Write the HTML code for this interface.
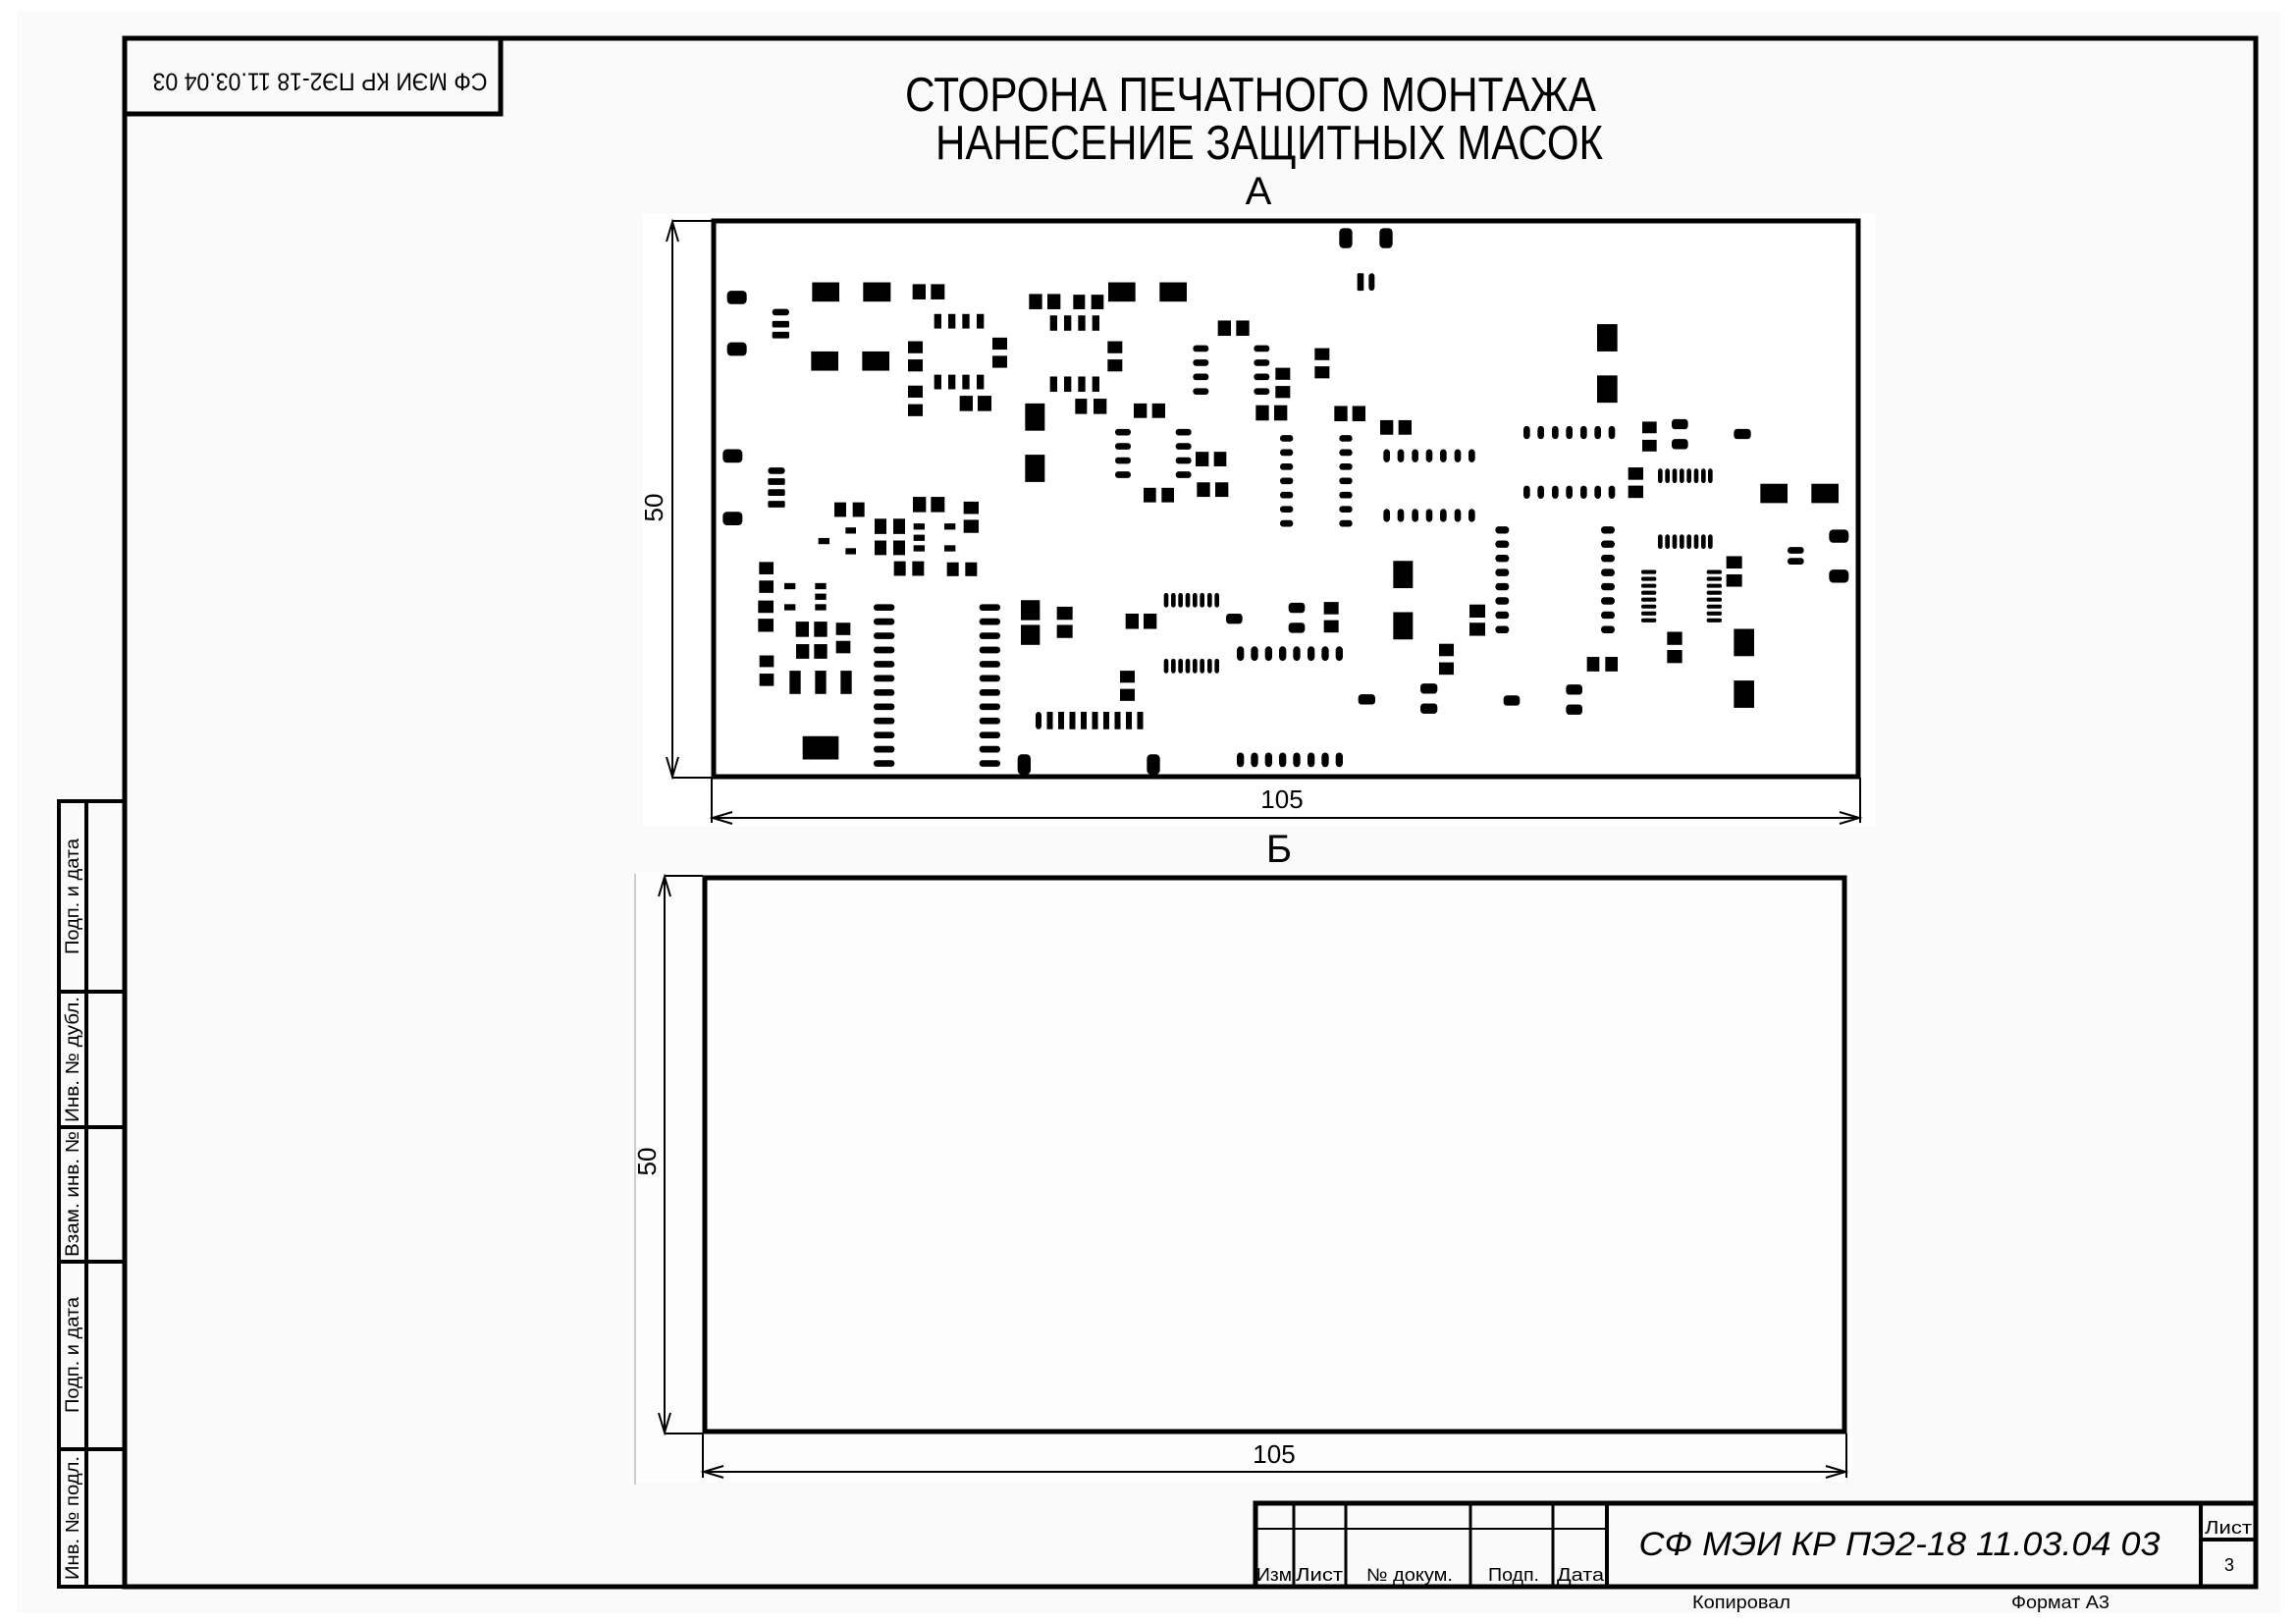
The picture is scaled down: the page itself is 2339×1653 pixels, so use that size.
<!DOCTYPE html>
<html><head><meta charset="utf-8"><style>
html,body{margin:0;padding:0;background:#fff}
svg{display:block}
text{font-family:"Liberation Sans",sans-serif;fill:#000}
</style></head><body>
<svg width="2339" height="1653" viewBox="0 0 2339 1653" xmlns="http://www.w3.org/2000/svg">
<rect x="17" y="11" width="2306" height="1632" fill="#fafafa"/>
<rect x="655" y="217" width="1256" height="624" fill="#fff"/>
<rect x="647" y="888" width="1240" height="622" fill="#fdfdfd"/>
<line x1="647" y1="890" x2="647" y2="1512" stroke="#ccc" stroke-width="2"/>

<rect x="127" y="39" width="2171" height="1577" fill="none" stroke="#000" stroke-width="5"/>
<rect x="127" y="39" width="383" height="77" fill="none" stroke="#000" stroke-width="5"/>
<text transform="translate(326,81) rotate(180)" font-size="25" text-anchor="middle" dominant-baseline="middle" textLength="341" lengthAdjust="spacingAndGlyphs">СФ МЭИ КР ПЭ2-18 11.03.04 03</text>

<g stroke="#000" stroke-width="4" fill="none">
<rect x="60" y="816" width="67" height="800"/>
<line x1="88" y1="816" x2="88" y2="1616"/>
<line x1="60" y1="1010" x2="127" y2="1010"/>
<line x1="60" y1="1148" x2="127" y2="1148"/>
<line x1="60" y1="1285" x2="127" y2="1285"/>
<line x1="60" y1="1476" x2="127" y2="1476"/>
</g>
<g font-size="19">
<text transform="translate(80,913) rotate(-90)" text-anchor="middle" textLength="118" lengthAdjust="spacingAndGlyphs">Подп. и дата</text>
<text transform="translate(80,1079) rotate(-90)" text-anchor="middle" textLength="128" lengthAdjust="spacingAndGlyphs">Инв. № дубл.</text>
<text transform="translate(80,1216) rotate(-90)" text-anchor="middle" textLength="128" lengthAdjust="spacingAndGlyphs">Взам. инв. №</text>
<text transform="translate(80,1380) rotate(-90)" text-anchor="middle" textLength="118" lengthAdjust="spacingAndGlyphs">Подп. и дата</text>
<text transform="translate(80,1546) rotate(-90)" text-anchor="middle" textLength="126" lengthAdjust="spacingAndGlyphs">Инв. № подл.</text>
</g>

<g stroke="#000" fill="none">
<rect x="1279" y="1531" width="1019" height="85" stroke-width="5"/>
<line x1="1279" y1="1557" x2="1637" y2="1557" stroke-width="2"/>
<line x1="1318" y1="1531" x2="1318" y2="1616" stroke-width="3"/>
<line x1="1371" y1="1531" x2="1371" y2="1616" stroke-width="3"/>
<line x1="1498" y1="1531" x2="1498" y2="1616" stroke-width="3"/>
<line x1="1582" y1="1531" x2="1582" y2="1616" stroke-width="3"/>
<line x1="1637" y1="1531" x2="1637" y2="1616" stroke-width="4"/>
<line x1="2242" y1="1531" x2="2242" y2="1616" stroke-width="4"/>
<line x1="2242" y1="1568" x2="2298" y2="1568" stroke-width="4"/>
</g>
<text x="1935" y="1584" font-size="34" font-style="italic" text-anchor="middle" textLength="531" lengthAdjust="spacingAndGlyphs">СФ МЭИ КР ПЭ2-18 11.03.04 03</text>
<g font-size="18" text-anchor="middle">
<text x="1298" y="1610" textLength="36" lengthAdjust="spacingAndGlyphs">Изм</text>
<text x="1344" y="1610" textLength="48" lengthAdjust="spacingAndGlyphs">Лист</text>
<text x="1436" y="1610" textLength="88" lengthAdjust="spacingAndGlyphs">№ докум.</text>
<text x="1542" y="1610" textLength="52" lengthAdjust="spacingAndGlyphs">Подп.</text>
<text x="1610" y="1610" textLength="48" lengthAdjust="spacingAndGlyphs">Дата</text>
<text x="2270" y="1562" textLength="48" lengthAdjust="spacingAndGlyphs">Лист</text>
<text x="2271" y="1600">3</text>
<text x="1774" y="1638" textLength="100" lengthAdjust="spacingAndGlyphs">Копировал</text>
<text x="2099" y="1638" textLength="100" lengthAdjust="spacingAndGlyphs">Формат А3</text>
</g>

<text x="922" y="113" font-size="49" textLength="704" lengthAdjust="spacingAndGlyphs">СТОРОНА ПЕЧАТНОГО МОНТАЖА</text>
<text x="953" y="162" font-size="49" textLength="680" lengthAdjust="spacingAndGlyphs">НАНЕСЕНИЕ ЗАЩИТНЫХ МАСОК</text>
<text x="1282" y="208" font-size="40" text-anchor="middle">А</text>
<text x="1303" y="878" font-size="40" text-anchor="middle">Б</text>

<rect x="727" y="225" width="1166" height="566" fill="#fff" stroke="#000" stroke-width="5"/>
<g stroke="#000" stroke-width="2" fill="none">
<line x1="685" y1="225" x2="725" y2="225"/>
<line x1="685" y1="792" x2="725" y2="792"/>
<line x1="685" y1="226" x2="685" y2="791"/>
<polyline points="679,246 685,226 691,246"/>
<polyline points="679,771 685,791 691,771"/>
<line x1="725" y1="792" x2="725" y2="838"/>
<line x1="1895" y1="792" x2="1895" y2="838"/>
<line x1="726" y1="833" x2="1894" y2="833"/>
<polyline points="746,827 726,833 746,839"/>
<polyline points="1874,827 1894,833 1874,839"/>
</g>
<text transform="translate(675,517) rotate(-90)" font-size="26" text-anchor="middle">50</text>
<text x="1306" y="823" font-size="26" text-anchor="middle">105</text>

<rect x="718" y="894" width="1161" height="564" fill="#fdfdfd" stroke="#000" stroke-width="5"/>
<g stroke="#000" stroke-width="2" fill="none">
<line x1="677" y1="892" x2="716" y2="892"/>
<line x1="677" y1="1460" x2="716" y2="1460"/>
<line x1="677" y1="893" x2="677" y2="1459"/>
<polyline points="671,913 677,893 683,913"/>
<polyline points="671,1439 677,1459 683,1439"/>
<line x1="716" y1="1460" x2="716" y2="1505"/>
<line x1="1881" y1="1460" x2="1881" y2="1505"/>
<line x1="717" y1="1499" x2="1880" y2="1499"/>
<polyline points="737,1493 717,1499 737,1505"/>
<polyline points="1860,1493 1880,1499 1860,1505"/>
</g>
<text transform="translate(668,1183) rotate(-90)" font-size="26" text-anchor="middle">50</text>
<text x="1298" y="1490" font-size="26" text-anchor="middle">105</text>

<g transform="translate(725,222) scale(0.33333,0.37037)" fill="#000">
<rect x="47" y="200" width="60" height="37" rx="12"/><rect x="47" y="342" width="60" height="37" rx="12"/>
<rect x="34" y="636" width="60" height="37" rx="12"/><rect x="34" y="808" width="60" height="37" rx="12"/>
<rect x="185" y="250" width="52" height="18" rx="9"/><rect x="185" y="283" width="52" height="18" rx="4"/><rect x="185" y="313" width="52" height="18" rx="4"/>
<rect x="172" y="686" width="52" height="18" rx="9"/><rect x="172" y="716" width="52" height="18" rx="4"/><rect x="172" y="746" width="52" height="18" rx="4"/><rect x="172" y="778" width="52" height="18" rx="4"/>
<rect x="307" y="177" width="83" height="53"/><rect x="463" y="177" width="84" height="53"/><rect x="304" y="367" width="83" height="53"/><rect x="460" y="367" width="83" height="53"/>
<rect x="614" y="182" width="40" height="42"/><rect x="670" y="182" width="42" height="42"/>
<rect x="680" y="264" width="22" height="40"/><rect x="723" y="264" width="22" height="40"/><rect x="766" y="264" width="22" height="40"/><rect x="810" y="264" width="22" height="40"/>
<rect x="680" y="431" width="22" height="40"/><rect x="723" y="431" width="22" height="40"/><rect x="766" y="431" width="22" height="40"/><rect x="810" y="431" width="22" height="40"/>
<rect x="600" y="339" width="45" height="33"/><rect x="600" y="389" width="45" height="33"/><rect x="600" y="461" width="45" height="33"/><rect x="600" y="512" width="45" height="33"/>
<rect x="858" y="329" width="45" height="33"/><rect x="858" y="379" width="45" height="33"/>
<rect x="758" y="489" width="40" height="42"/><rect x="813" y="489" width="42" height="42"/>
<rect x="970" y="209" width="40" height="42"/><rect x="1026" y="209" width="40" height="42"/><rect x="1105" y="211" width="36" height="40"/><rect x="1160" y="211" width="38" height="40"/>
<rect x="1034" y="268" width="22" height="42"/><rect x="1077" y="268" width="22" height="42"/><rect x="1120" y="268" width="22" height="42"/><rect x="1163" y="268" width="22" height="42"/>
<rect x="1034" y="436" width="22" height="42"/><rect x="1077" y="436" width="22" height="42"/><rect x="1120" y="436" width="22" height="42"/><rect x="1163" y="436" width="22" height="42"/>
<rect x="1111" y="497" width="36" height="42"/><rect x="1167" y="497" width="40" height="42"/>
<rect x="958" y="510" width="60" height="75"/><rect x="958" y="651" width="60" height="75"/>
<rect x="375" y="782" width="36" height="40"/><rect x="431" y="782" width="36" height="40"/>
<rect x="409" y="851" width="32" height="17"/><rect x="326" y="880" width="34" height="17"/><rect x="409" y="908" width="32" height="17"/>
<rect x="498" y="827" width="36" height="42"/><rect x="555" y="827" width="36" height="42"/><rect x="498" y="887" width="36" height="40"/><rect x="555" y="887" width="36" height="40"/>
<rect x="615" y="767" width="40" height="42"/><rect x="670" y="767" width="42" height="42"/>
<rect x="617" y="840" width="34" height="17"/><rect x="617" y="871" width="34" height="17"/><rect x="617" y="900" width="34" height="17"/>
<rect x="711" y="840" width="34" height="17"/><rect x="711" y="900" width="34" height="17"/>
<rect x="770" y="780" width="46" height="34"/><rect x="770" y="830" width="46" height="36"/>
<rect x="557" y="944" width="36" height="40"/><rect x="613" y="944" width="36" height="40"/><rect x="719" y="947" width="36" height="38"/><rect x="775" y="947" width="36" height="38"/>
<rect x="145" y="946" width="44" height="34"/><rect x="145" y="997" width="44" height="34"/><rect x="142" y="1052" width="47" height="34"/><rect x="142" y="1102" width="47" height="36"/>
<rect x="222" y="1004" width="34" height="17"/><rect x="222" y="1062" width="34" height="17"/>
<rect x="316" y="1004" width="34" height="17"/><rect x="316" y="1033" width="34" height="17"/><rect x="316" y="1062" width="34" height="17"/>
<rect x="257" y="1110" width="40" height="42"/><rect x="313" y="1110" width="40" height="42"/>
<rect x="380" y="1113" width="44" height="34"/><rect x="380" y="1163" width="44" height="34"/>
<rect x="258" y="1172" width="40" height="40"/><rect x="313" y="1172" width="40" height="40"/>
<rect x="146" y="1203" width="44" height="32"/><rect x="146" y="1253" width="44" height="34"/>
<rect x="238" y="1245" width="34" height="64"/><rect x="316" y="1245" width="34" height="64"/><rect x="394" y="1245" width="34" height="64"/>
<rect x="278" y="1425" width="110" height="64"/>
<rect x="495" y="1062" width="64" height="18" rx="9"/><rect x="495" y="1101" width="64" height="18" rx="9"/><rect x="495" y="1140" width="64" height="18" rx="9"/><rect x="495" y="1179" width="64" height="18" rx="9"/><rect x="495" y="1218" width="64" height="18" rx="9"/><rect x="495" y="1257" width="64" height="18" rx="9"/><rect x="495" y="1296" width="64" height="18" rx="9"/><rect x="495" y="1335" width="64" height="18" rx="9"/><rect x="495" y="1374" width="64" height="18" rx="9"/><rect x="495" y="1413" width="64" height="18" rx="9"/><rect x="495" y="1452" width="64" height="18" rx="9"/><rect x="495" y="1491" width="64" height="18" rx="9"/>
<rect x="818" y="1062" width="64" height="18" rx="9"/><rect x="818" y="1101" width="64" height="18" rx="9"/><rect x="818" y="1140" width="64" height="18" rx="9"/><rect x="818" y="1179" width="64" height="18" rx="9"/><rect x="818" y="1218" width="64" height="18" rx="9"/><rect x="818" y="1257" width="64" height="18" rx="9"/><rect x="818" y="1296" width="64" height="18" rx="9"/><rect x="818" y="1335" width="64" height="18" rx="9"/><rect x="818" y="1374" width="64" height="18" rx="9"/><rect x="818" y="1413" width="64" height="18" rx="9"/><rect x="818" y="1452" width="64" height="18" rx="9"/><rect x="818" y="1491" width="64" height="18" rx="9"/>
<rect x="945" y="1051" width="58" height="55"/><rect x="945" y="1119" width="58" height="55"/>
<rect x="1055" y="1069" width="48" height="36"/><rect x="1055" y="1119" width="48" height="36"/>
<rect x="990" y="1358" width="18" height="48" rx="9"/><rect x="1024.5" y="1358" width="18" height="48"/><rect x="1059" y="1358" width="18" height="48"/><rect x="1093.5" y="1358" width="18" height="48"/><rect x="1128" y="1358" width="18" height="48"/><rect x="1162.5" y="1358" width="18" height="48"/><rect x="1197" y="1358" width="18" height="48"/><rect x="1231.5" y="1358" width="18" height="48"/><rect x="1266" y="1358" width="18" height="48"/><rect x="1300.5" y="1358" width="18" height="48"/>
<rect x="935" y="1475" width="40" height="55" rx="12"/>
</g>

<g transform="translate(1120,222) scale(0.33333,0.37037)" fill="#000">
<rect x="733" y="28" width="40" height="55" rx="12"/><rect x="856" y="28" width="40" height="55" rx="12"/>
<rect x="788" y="152" width="20" height="48" rx="4"/><rect x="823" y="152" width="18" height="48" rx="9"/>
<rect x="27" y="177" width="83" height="53"/><rect x="184" y="177" width="83" height="53"/>
<rect x="362" y="282" width="40" height="42"/><rect x="418" y="282" width="40" height="42"/>
<rect x="25" y="339" width="45" height="33"/><rect x="25" y="389" width="45" height="33"/>
<rect x="286" y="350" width="48" height="18" rx="9"/><rect x="286" y="389" width="48" height="18" rx="9"/><rect x="286" y="428" width="48" height="18" rx="9"/><rect x="286" y="468" width="48" height="18" rx="9"/>
<rect x="472" y="350" width="48" height="18" rx="9"/><rect x="472" y="389" width="48" height="18" rx="9"/><rect x="472" y="428" width="48" height="18" rx="9"/><rect x="472" y="468" width="48" height="18" rx="9"/>
<rect x="538" y="412" width="45" height="33"/><rect x="538" y="462" width="45" height="33"/>
<rect x="658" y="358" width="45" height="33"/><rect x="658" y="408" width="45" height="33"/>
<rect x="105" y="510" width="40" height="40"/><rect x="161" y="510" width="40" height="40"/>
<rect x="478" y="515" width="40" height="42"/><rect x="534" y="515" width="40" height="42"/>
<rect x="718" y="517" width="40" height="42"/><rect x="773" y="517" width="40" height="42"/>
<rect x="858" y="556" width="40" height="40"/><rect x="914" y="556" width="40" height="40"/>
<rect x="48" y="580" width="48" height="18" rx="9"/><rect x="48" y="619" width="48" height="18" rx="9"/><rect x="48" y="658" width="48" height="18" rx="9"/><rect x="48" y="697" width="48" height="18" rx="9"/>
<rect x="233" y="580" width="48" height="18" rx="9"/><rect x="233" y="619" width="48" height="18" rx="9"/><rect x="233" y="658" width="48" height="18" rx="9"/><rect x="233" y="697" width="48" height="18" rx="9"/>
<rect x="294" y="643" width="40" height="40"/><rect x="350" y="643" width="38" height="40"/>
<rect x="298" y="727" width="40" height="40"/><rect x="354" y="727" width="40" height="40"/>
<rect x="135" y="742" width="38" height="40"/><rect x="190" y="742" width="38" height="40"/>
<rect x="552" y="597" width="40" height="18" rx="9"/><rect x="552" y="636" width="40" height="18" rx="9"/><rect x="552" y="675" width="40" height="18" rx="9"/><rect x="552" y="714" width="40" height="18" rx="9"/><rect x="552" y="753" width="40" height="18" rx="9"/><rect x="552" y="792" width="40" height="18" rx="9"/><rect x="552" y="831" width="40" height="18" rx="9"/>
<rect x="733" y="597" width="40" height="18" rx="9"/><rect x="733" y="636" width="40" height="18" rx="9"/><rect x="733" y="675" width="40" height="18" rx="9"/><rect x="733" y="714" width="40" height="18" rx="9"/><rect x="733" y="753" width="40" height="18" rx="9"/><rect x="733" y="792" width="40" height="18" rx="9"/><rect x="733" y="831" width="40" height="18" rx="9"/>
<rect x="868" y="636" width="20" height="36" rx="10"/><rect x="911" y="636" width="20" height="36" rx="10"/><rect x="955" y="636" width="20" height="36" rx="10"/><rect x="998" y="636" width="20" height="36" rx="10"/><rect x="1041" y="636" width="20" height="36" rx="10"/><rect x="1085" y="636" width="20" height="36" rx="10"/><rect x="1128" y="636" width="20" height="36" rx="10"/>
<rect x="868" y="800" width="20" height="36" rx="10"/><rect x="911" y="800" width="20" height="36" rx="10"/><rect x="955" y="800" width="20" height="36" rx="10"/><rect x="998" y="800" width="20" height="36" rx="10"/><rect x="1041" y="800" width="20" height="36" rx="10"/><rect x="1085" y="800" width="20" height="36" rx="10"/><rect x="1128" y="800" width="20" height="36" rx="10"/>
<rect x="898" y="943" width="60" height="75"/><rect x="898" y="1084" width="60" height="75"/>
<rect x="1131" y="1063" width="48" height="36"/><rect x="1131" y="1113" width="48" height="36"/>
<rect x="197" y="1031" width="14" height="40" rx="7"/><rect x="219" y="1031" width="14" height="40" rx="7"/><rect x="241" y="1031" width="14" height="40" rx="7"/><rect x="263" y="1031" width="14" height="40" rx="7"/><rect x="285" y="1031" width="14" height="40" rx="7"/><rect x="307" y="1031" width="14" height="40" rx="7"/><rect x="330" y="1031" width="14" height="40" rx="7"/><rect x="352" y="1031" width="14" height="40" rx="7"/>
<rect x="197" y="1212" width="14" height="40" rx="7"/><rect x="219" y="1212" width="14" height="40" rx="7"/><rect x="241" y="1212" width="14" height="40" rx="7"/><rect x="263" y="1212" width="14" height="40" rx="7"/><rect x="285" y="1212" width="14" height="40" rx="7"/><rect x="307" y="1212" width="14" height="40" rx="7"/><rect x="330" y="1212" width="14" height="40" rx="7"/><rect x="352" y="1212" width="14" height="40" rx="7"/>
<rect x="80" y="1088" width="40" height="42"/><rect x="135" y="1088" width="40" height="42"/>
<rect x="387" y="1088" width="50" height="28" rx="10"/>
<rect x="578" y="1058" width="50" height="28" rx="10"/><rect x="578" y="1113" width="50" height="28" rx="10"/>
<rect x="686" y="1056" width="45" height="34"/><rect x="686" y="1106" width="45" height="34"/>
<rect x="420" y="1178" width="22" height="40" rx="11"/><rect x="463" y="1178" width="22" height="40" rx="11"/><rect x="506" y="1178" width="22" height="40" rx="11"/><rect x="549" y="1178" width="22" height="40" rx="11"/><rect x="592" y="1178" width="22" height="40" rx="11"/><rect x="636" y="1178" width="22" height="40" rx="11"/><rect x="679" y="1178" width="22" height="40" rx="11"/><rect x="722" y="1178" width="22" height="40" rx="11"/>
<rect x="420" y="1470" width="22" height="40" rx="11"/><rect x="463" y="1470" width="22" height="40" rx="11"/><rect x="506" y="1470" width="22" height="40" rx="11"/><rect x="549" y="1470" width="22" height="40" rx="11"/><rect x="592" y="1470" width="22" height="40" rx="11"/><rect x="636" y="1470" width="22" height="40" rx="11"/><rect x="679" y="1470" width="22" height="40" rx="11"/><rect x="722" y="1470" width="22" height="40" rx="11"/>
<rect x="63" y="1245" width="45" height="33"/><rect x="63" y="1295" width="45" height="33"/>
<rect x="1038" y="1171" width="45" height="34"/><rect x="1038" y="1222" width="45" height="34"/>
<rect x="981" y="1280" width="52" height="28" rx="10"/><rect x="981" y="1335" width="52" height="28" rx="10"/><rect x="791" y="1310" width="52" height="28" rx="10"/>
<rect x="145" y="1475" width="40" height="55" rx="12"/>
</g>

<g transform="translate(1500,222) scale(0.33333,0.37037)" fill="#000">
<rect x="381" y="292" width="62" height="75"/><rect x="381" y="433" width="62" height="75"/>
<rect x="156" y="572" width="20" height="36" rx="10"/><rect x="199" y="572" width="20" height="36" rx="10"/><rect x="243" y="572" width="20" height="36" rx="10"/><rect x="286" y="572" width="20" height="36" rx="10"/><rect x="330" y="572" width="20" height="36" rx="10"/><rect x="373" y="572" width="20" height="36" rx="10"/><rect x="416" y="572" width="20" height="36" rx="10"/>
<rect x="156" y="736" width="20" height="36" rx="10"/><rect x="199" y="736" width="20" height="36" rx="10"/><rect x="243" y="736" width="20" height="36" rx="10"/><rect x="286" y="736" width="20" height="36" rx="10"/><rect x="330" y="736" width="20" height="36" rx="10"/><rect x="373" y="736" width="20" height="36" rx="10"/><rect x="416" y="736" width="20" height="36" rx="10"/>
<rect x="519" y="560" width="44" height="32"/><rect x="519" y="610" width="44" height="32"/>
<rect x="609" y="553" width="50" height="28" rx="10"/><rect x="609" y="608" width="50" height="28" rx="10"/><rect x="799" y="580" width="52" height="28" rx="10"/>
<rect x="476" y="686" width="46" height="34"/><rect x="476" y="736" width="46" height="34"/>
<rect x="567" y="689" width="14" height="40" rx="7"/><rect x="589" y="689" width="14" height="40" rx="7"/><rect x="611" y="689" width="14" height="40" rx="7"/><rect x="633" y="689" width="14" height="40" rx="7"/><rect x="655" y="689" width="14" height="40" rx="7"/><rect x="677" y="689" width="14" height="40" rx="7"/><rect x="699" y="689" width="14" height="40" rx="7"/><rect x="720" y="689" width="14" height="40" rx="7"/>
<rect x="567" y="870" width="14" height="40" rx="7"/><rect x="589" y="870" width="14" height="40" rx="7"/><rect x="611" y="870" width="14" height="40" rx="7"/><rect x="633" y="870" width="14" height="40" rx="7"/><rect x="655" y="870" width="14" height="40" rx="7"/><rect x="677" y="870" width="14" height="40" rx="7"/><rect x="699" y="870" width="14" height="40" rx="7"/><rect x="720" y="870" width="14" height="40" rx="7"/>
<rect x="880" y="731" width="83" height="53"/><rect x="1036" y="731" width="83" height="53"/>
<rect x="1090" y="857" width="60" height="36" rx="12"/><rect x="1090" y="967" width="60" height="36" rx="12"/>
<rect x="963" y="905" width="50" height="18" rx="9"/><rect x="963" y="935" width="50" height="18" rx="9"/>
<rect x="776" y="930" width="48" height="34"/><rect x="776" y="980" width="48" height="34"/>
<rect x="70" y="848" width="42" height="20" rx="10"/><rect x="70" y="887" width="42" height="20" rx="10"/><rect x="70" y="926" width="42" height="20" rx="10"/><rect x="70" y="965" width="42" height="20" rx="10"/><rect x="70" y="1004" width="42" height="20" rx="10"/><rect x="70" y="1043" width="42" height="20" rx="10"/><rect x="70" y="1082" width="42" height="20" rx="10"/><rect x="70" y="1122" width="42" height="20" rx="10"/>
<rect x="393" y="848" width="42" height="20" rx="10"/><rect x="393" y="887" width="42" height="20" rx="10"/><rect x="393" y="926" width="42" height="20" rx="10"/><rect x="393" y="965" width="42" height="20" rx="10"/><rect x="393" y="1004" width="42" height="20" rx="10"/><rect x="393" y="1043" width="42" height="20" rx="10"/><rect x="393" y="1082" width="42" height="20" rx="10"/><rect x="393" y="1122" width="42" height="20" rx="10"/>
<rect x="516" y="968" width="46" height="11" rx="5"/><rect x="516" y="987" width="46" height="11" rx="5"/><rect x="516" y="1006" width="46" height="11" rx="5"/><rect x="516" y="1025" width="46" height="11" rx="5"/><rect x="516" y="1044" width="46" height="11" rx="5"/><rect x="516" y="1063" width="46" height="11" rx="5"/><rect x="516" y="1082" width="46" height="11" rx="5"/><rect x="516" y="1101" width="46" height="11" rx="5"/>
<rect x="716" y="968" width="46" height="11" rx="5"/><rect x="716" y="987" width="46" height="11" rx="5"/><rect x="716" y="1006" width="46" height="11" rx="5"/><rect x="716" y="1025" width="46" height="11" rx="5"/><rect x="716" y="1044" width="46" height="11" rx="5"/><rect x="716" y="1063" width="46" height="11" rx="5"/><rect x="716" y="1082" width="46" height="11" rx="5"/><rect x="716" y="1101" width="46" height="11" rx="5"/>
<rect x="595" y="1138" width="46" height="36"/><rect x="595" y="1188" width="46" height="36"/>
<rect x="799" y="1130" width="62" height="75"/><rect x="799" y="1272" width="62" height="75"/>
<rect x="350" y="1207" width="38" height="40"/><rect x="406" y="1207" width="38" height="40"/>
<rect x="95" y="1313" width="50" height="28" rx="10"/><rect x="286" y="1283" width="50" height="28" rx="10"/><rect x="286" y="1338" width="50" height="28" rx="10"/>
</g>
</svg>
</body></html>
